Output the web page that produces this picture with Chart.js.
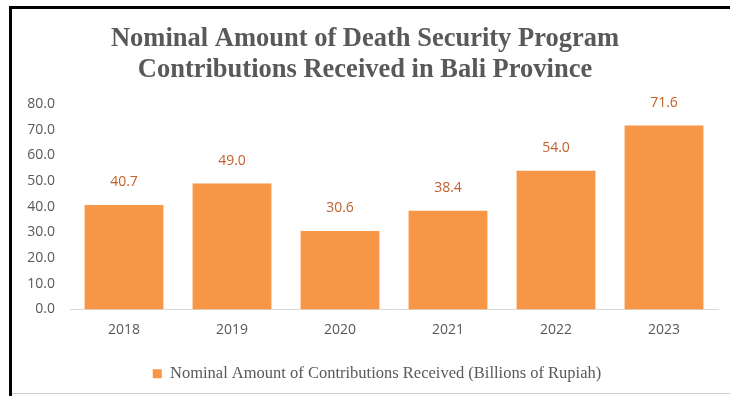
<!DOCTYPE html>
<html>
<head>
<meta charset="utf-8">
<script src="https://cdn.jsdelivr.net/npm/chart.js@4/dist/chart.umd.min.js"></script>
<style>
html,body{margin:0;padding:0;background:#fff;overflow:hidden;}
canvas{display:block;}
</style>
</head>
<body>
<canvas id="c" width="730" height="396"></canvas>
<script>
const categories = ['2018','2019','2020','2021','2022','2023'];
const contributions = [40.7, 49.0, 30.6, 38.4, 54.0, 71.6];
const seriesLabel = 'Nominal Amount of Contributions Received (Billions of Rupiah)';
const titleLines = ['Nominal Amount of Death Security Program', 'Contributions Received in Bali Province'];
const yTicks = [0,10,20,30,40,50,60,70,80];

const frame = {
  id: 'frame',
  afterLayout(chart) {
    if (chart.legend) { chart.legend.left += 12; chart.legend.right += 12; }
  },
  beforeDraw(chart) {
    const ctx = chart.ctx;
    ctx.save();
    ctx.fillStyle = '#fff';
    ctx.fillRect(0, 0, chart.width, chart.height);
    ctx.restore();
  },
  afterDraw(chart) {
    const ctx = chart.ctx;
    ctx.save();
    ctx.fillStyle = '#000';
    ctx.fillRect(9, 6, chart.width - 9, 3);
    ctx.fillRect(9, 6, 3, chart.height - 6);
    ctx.fillStyle = '#d0d0d0';
    ctx.fillRect(12, 393, chart.width - 12, 1);
    ctx.restore();
  }
};

const valueLabels = {
  id: 'valueLabels',
  afterDatasetsDraw(chart) {
    const ctx = chart.ctx;
    const meta = chart.getDatasetMeta(0);
    ctx.save();
    ctx.font = '14px "Open Sans", sans-serif';
    ctx.fillStyle = '#c0612a';
    ctx.textAlign = 'center';
    ctx.textBaseline = 'middle';
    meta.data.forEach((bar, i) => {
      const v = chart.data.datasets[0].data[i];
      ctx.fillText(v.toFixed(1), bar.x, bar.y - 23);
    });
    ctx.restore();
  }
};

new Chart(document.getElementById('c'), {
  type: 'bar',
  data: {
    labels: categories,
    datasets: [{
      label: seriesLabel,
      data: contributions,
      backgroundColor: '#f79646',
      borderWidth: 0,
      barPercentage: 0.73,
      categoryPercentage: 1.0
    }]
  },
  options: {
    responsive: false,
    animation: false,
    devicePixelRatio: 1,
    layout: { padding: { left: 12, right: 12, top: 0, bottom: 4 } },
    plugins: {
      title: {
        display: true,
        text: titleLines,
        color: '#595959',
        font: { family: '"Liberation Serif", serif', size: 26.5, weight: 'bold', lineHeight: 1.15 },
        padding: { top: 24, bottom: 19 }
      },
      legend: {
        display: true,
        position: 'bottom',
        labels: {
          color: '#595959',
          font: { family: '"Liberation Serif", serif', size: 16.5 },
          boxWidth: 9,
          boxHeight: 9,
          padding: 10
        }
      },
      tooltip: { enabled: false }
    },
    scales: {
      x: {
        grid: { display: false, drawTicks: false },
        border: { display: true, color: '#d9d9d9', width: 1 },
        ticks: { color: '#595959', font: { family: '"Open Sans", sans-serif', size: 14 }, padding: 12 },
        afterFit(s) { s.height = 46; }
      },
      y: {
        min: 0, max: 80,
        afterBuildTicks(s) { s.ticks = yTicks.map(v => ({ value: v })); },
        grid: { display: false, drawTicks: false },
        border: { display: false },
        ticks: {
          color: '#595959',
          font: { family: '"Open Sans", sans-serif', size: 14 },
          padding: 15,
          callback: v => Number(v).toFixed(1)
        },
        afterFit(s) { s.width = 58; }
      }
    }
  },
  plugins: [frame, valueLabels]
});
</script>
</body>
</html>
